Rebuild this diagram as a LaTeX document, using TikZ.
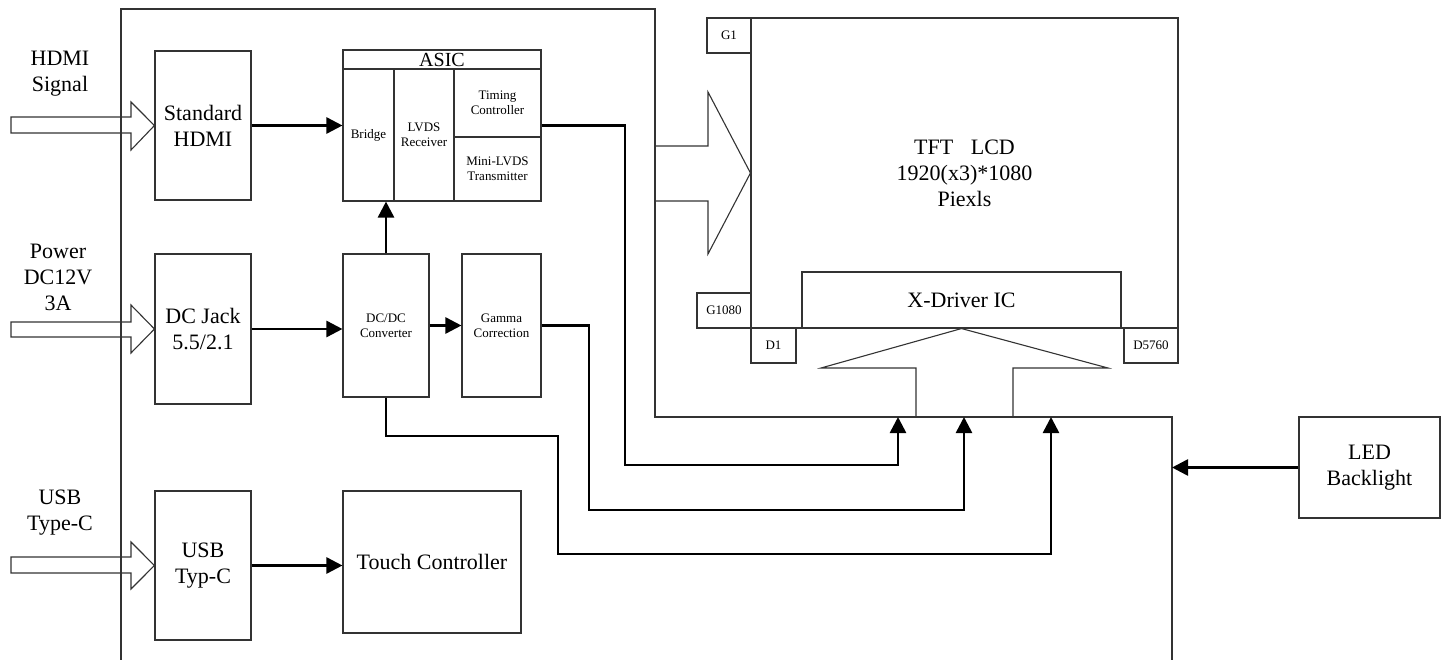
\documentclass[tikz,border=0pt]{standalone}
\usepackage{fontspec}
\setmainfont{Liberation Serif}
\usetikzlibrary{arrows.meta}
\begin{document}
\begin{tikzpicture}[x=1pt,y=-1pt,
  outline/.style={draw=black!80, line width=1.1pt},
  blk/.style={outline, rectangle, inner sep=0pt, align=center, font=\fontsize{22}{26}\selectfont},
  sblk/.style={blk, font=\fontsize{13}{15}\selectfont},
  lbl/.style={align=center, inner sep=0pt, font=\fontsize{22}{26}\selectfont},
  wire/.style={line width=2.6pt, -{Triangle[length=16pt,width=16pt]}},
  hollow/.style={outline, line join=miter}]
\useasboundingbox (0,0) rectangle (1441,660);

% outer enclosure
\draw[outline] (121,662) -- (121,9) -- (655,9) -- (655,417) -- (1172,417) -- (1172,662);

% left column blocks
\node[blk, minimum width=96pt, minimum height=149pt] (hdmi) at (203,125.5) {Standard\\HDMI};
\node[blk, minimum width=96pt, minimum height=150pt] (jack) at (203,329) {DC Jack\\5.5/2.1};
\node[blk, minimum width=96pt, minimum height=149pt] (usb) at (203,565.5) {USB\\Typ-C};
\node[blk, minimum width=178pt, minimum height=142pt] (touch) at (432,562) {Touch Controller};

% ASIC
\node[blk, minimum width=198pt, minimum height=151pt] (asic) at (442,125.5) {};
\node[blk, minimum width=198pt, minimum height=19pt, font=\fontsize{20}{22}\selectfont] (asict) at (442,59.5) {ASIC};
\node[sblk, minimum width=51pt, minimum height=132pt] (bridge) at (368.5,135) {Bridge};
\node[sblk, minimum width=60pt, minimum height=132pt] (lvds) at (424,135) {LVDS\\Receiver};
\node[sblk, minimum width=87pt, minimum height=68pt] (timing) at (497.5,103) {Timing\\Controller};
\node[sblk, minimum width=87pt, minimum height=64pt] (mini) at (497.5,169) {Mini-LVDS\\Transmitter};

% power blocks
\node[sblk, minimum width=86pt, minimum height=143pt] (dcdc) at (386,325.5) {DC/DC\\Converter};
\node[sblk, minimum width=79pt, minimum height=143pt] (gamma) at (501.5,325.5) {Gamma\\Correction};

% LCD panel
\node[blk, minimum width=427pt, minimum height=310pt] (lcd) at (964.5,173) {TFT\hspace{0.8em}LCD\\1920(x3)*1080\\Piexls};
\node[sblk, minimum width=44pt, minimum height=35pt] (g1) at (729,35.5) {G1};
\node[sblk, minimum width=54pt, minimum height=35pt] (g1080) at (724,310.5) {G1080};
\node[sblk, minimum width=45pt, minimum height=35pt] (d1) at (773.5,345.5) {D1};
\node[sblk, minimum width=54pt, minimum height=35pt] (d5760) at (1151,345.5) {D5760};
\node[blk, minimum width=319pt, minimum height=56pt] (xdrv) at (961.5,300) {X-Driver IC};

% LED backlight
\node[blk, minimum width=141pt, minimum height=101pt] (led) at (1369.5,467.5) {LED\\Backlight};

% input labels
\node[lbl] (lhdmi) at (60,74) {HDMI\\Signal};
\node[lbl] (lpow) at (58,277) {Power\\DC12V\\3A};
\node[lbl] (lusb) at (60,513) {USB\\Type-C};

% hollow input arrows
\draw[hollow] (11,117) -- (131,117) -- (131,102) -- (hdmi.west) -- (131,150) -- (131,133) -- (11,133) -- cycle;
\draw[hollow] (11,322) -- (131,322) -- (131,305) -- (jack.west) -- (131,353) -- (131,337) -- (11,337) -- cycle;
\draw[hollow] (11,557) -- (131,557) -- (131,542) -- (usb.west) -- (131,589) -- (131,573) -- (11,573) -- cycle;

% big arrows into panel
\draw[hollow] (655,146) -- (708,146) -- (708,92) -- (lcd.west) -- (708,254) -- (708,201) -- (655,201);
\draw[hollow] (916,417) -- (916,368) -- (821,368) -- (xdrv.south) -- (1108,368) -- (1013,368) -- (1013,417);

% connector end points
\coordinate (in1) at (898,417);
\coordinate (in2) at (964,417);
\coordinate (in3) at (1051,417);
\coordinate (blin) at (1172,467.5);

% connectors
\draw[wire] (hdmi.east) -- (hdmi.east -| bridge.west);
\draw[wire] (jack.east) -- (jack.east -| dcdc.west);
\draw[wire] (dcdc.east) -- (gamma.west);
\draw[wire] (usb.east) -- (usb.east -| touch.west);
\draw[wire] (dcdc.north) -- (dcdc.north |- asic.south);
\draw[wire] (asic.east) -| (625,465) -| (in1);
\draw[wire] (gamma.east) -| (589,510) -| (in2);
\draw[wire] (dcdc.south) |- (558,436) -- (558,554) -| (in3);
\draw[wire] (led.west) -- (blin);
\end{tikzpicture}
\end{document}
